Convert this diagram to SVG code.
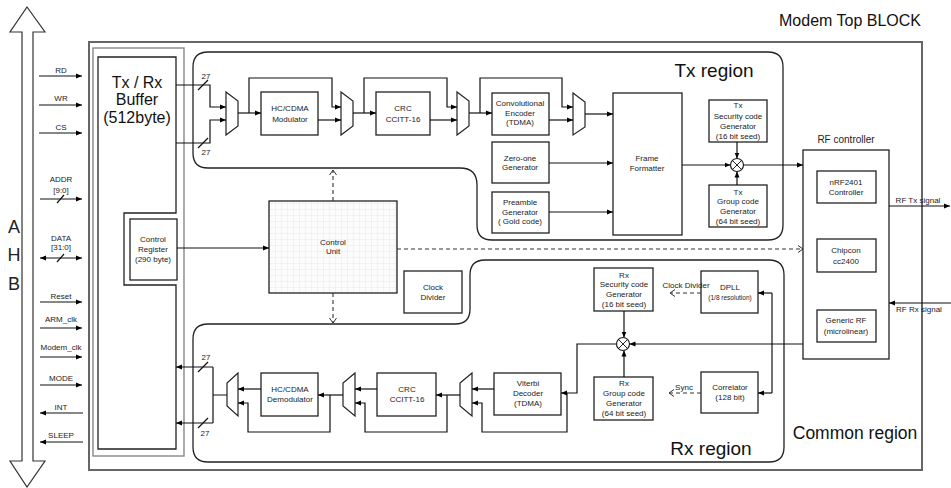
<svg xmlns="http://www.w3.org/2000/svg" width="951" height="488" viewBox="0 0 951 488">
<style>
text{font-family:"Liberation Sans",Arial,sans-serif;fill:#222;text-anchor:middle}
.s{font-size:8px}
.xs{font-size:6.5px}
.big{font-size:16px;fill:#111}
.reg{font-size:19px;fill:#111}
.box{fill:#fff;stroke:#222;stroke-width:1.3}
.mux{fill:#fff;stroke:#222;stroke-width:1.2}
.w{fill:none;stroke:#111;stroke-width:1.2}
.arr{marker-end:url(#a)}
.d{fill:none;stroke:#333;stroke-width:1.1;stroke-dasharray:4 3;marker-end:url(#o)}
.region{fill:none;stroke:#222;stroke-width:1.3}
</style>
<defs>
<marker id="a" markerWidth="6" markerHeight="6" refX="6" refY="3" orient="auto-start-reverse" markerUnits="userSpaceOnUse"><path d="M0,0.5 L6,3 L0,5.5 Z" fill="#000"/></marker>
<marker id="o" markerWidth="7" markerHeight="8" refX="6" refY="4" orient="auto" markerUnits="userSpaceOnUse"><path d="M1,0.5 L6,4 L1,7.5" fill="none" stroke="#333" stroke-width="1"/></marker>
<pattern id="grid" width="6" height="6" patternUnits="userSpaceOnUse"><rect width="6" height="6" fill="#fcfcfc"/><path d="M6,0 V6 M0,6 H6" fill="none" stroke="#dcdcdc" stroke-width="0.6"/></pattern>
</defs>
<rect width="951" height="488" fill="#fff"/>

<g id="ahb">
<polygon points="27,7 45,32 33,32 33,461 45,461 27,487 10,461 22,461 22,32 10,32" fill="#fff" stroke="#333" stroke-width="1.2"/>
<text x="14" y="233" style="font-size:18px">A</text>
<text x="14" y="261" style="font-size:18px">H</text>
<text x="14" y="290" style="font-size:18px">B</text>
</g>

<g id="modem-top">
<rect x="89" y="42" width="833" height="428" fill="none" stroke="#666" stroke-width="2"/>
<text x="921" y="26" class="big" style="text-anchor:end">Modem Top BLOCK</text>
<text x="855" y="439" class="reg" style="font-size:17.5px">Common region</text>
</g>

<g id="buffer">
<rect x="93" y="48" width="91" height="408" fill="none" stroke="#888" stroke-width="1.4"/>
<path d="M98,57 H176 V213 H124 V285 H176 V449 H98 Z" fill="#fff" stroke="#222" stroke-width="1.3"/>
<text x="137" y="88" class="big">Tx / Rx</text>
<text x="137" y="105" class="big">Buffer</text>
<text x="137" y="123" class="big">(512byte)</text>
</g>

<g id="control-register">
<rect x="130" y="219" width="47" height="61" class="box"/>
<text x="153" y="242" class="s">Control</text>
<text x="153" y="252" class="s">Register</text>
<text x="153" y="262" class="s">(290 byte)</text>
</g>

<g id="tx-region">
<path d="M208,52 H768 Q783,52 783,67 V225 Q783,240 768,240 H492 Q477,240 477,225 V185 Q477,168 460,168 H208 Q193,168 193,153 V67 Q193,52 208,52 Z" class="region"/>
<text x="714" y="77" class="reg">Tx region</text>
</g>

<g id="rx-region">
<path d="M208,324 H455 Q470,324 470,309 V275 Q470,260 485,260 H769 Q784,260 784,275 V447 Q784,462 769,462 H208 Q193,462 193,447 V339 Q193,324 208,324 Z" class="region"/>
<text x="711" y="455" class="reg">Rx region</text>
</g>

<g id="tx-mux1"><polygon points="226,92 238,101 238,126 226,135" class="mux"/></g>
<g id="tx-mux2"><polygon points="341,92 353,101 353,126 341,135" class="mux"/></g>
<g id="tx-mux3"><polygon points="457,92 469,101 469,126 457,135" class="mux"/></g>
<g id="tx-mux4"><polygon points="573,93 585,102 585,127 573,135" class="mux"/></g>

<g id="hc-cdma-mod"><rect x="261" y="92" width="57" height="43" class="box"/>
<text x="290" y="111" class="s">HC/CDMA</text><text x="290" y="122" class="s">Modulator</text></g>
<g id="crc-tx"><rect x="376" y="92" width="54" height="43" class="box"/>
<text x="403" y="111" class="s">CRC</text><text x="403" y="122" class="s">CCITT-16</text></g>
<g id="conv-enc"><rect x="492" y="93" width="57" height="42" class="box"/>
<text x="520" y="106" class="s">Convolutional</text><text x="520" y="116" class="s">Encoder</text><text x="520" y="125" class="s">(TDMA)</text></g>
<g id="zero-one"><rect x="492" y="142" width="57" height="41" class="box"/>
<text x="520" y="161" class="s">Zero-one</text><text x="520" y="170" class="s">Generator</text></g>
<g id="preamble"><rect x="492" y="192" width="57" height="41" class="box"/>
<text x="520" y="205" class="s">Preamble</text><text x="520" y="215" class="s">Generator</text><text x="520" y="224" class="s">( Gold code)</text></g>
<g id="frame-formatter"><rect x="613" y="93" width="69" height="142" class="box"/>
<text x="647" y="161" class="s">Frame</text><text x="647" y="171" class="s">Formatter</text></g>
<g id="tx-security"><rect x="709" y="100" width="58" height="42" class="box"/>
<text x="738" y="108" class="s">Tx</text><text x="738" y="119" class="s">Security code</text><text x="738" y="129" class="s">Generator</text><text x="738" y="139" class="s">(16 bit seed)</text></g>
<g id="tx-group"><rect x="709" y="185" width="58" height="42" class="box"/>
<text x="738" y="195" class="s">Tx</text><text x="738" y="204" class="s">Group code</text><text x="738" y="214" class="s">Generator</text><text x="738" y="224" class="s">(64 bit seed)</text></g>
<g id="tx-xor"><circle cx="737" cy="165" r="6.5" fill="#fff" stroke="#222" stroke-width="1.2"/>
<path d="M732.4,160.4 L741.6,169.6 M741.6,160.4 L732.4,169.6" stroke="#222" stroke-width="1"/></g>

<g id="control-unit"><rect x="269" y="201" width="128" height="92" fill="url(#grid)" stroke="#222" stroke-width="1.3"/>
<text x="333" y="245" class="s">Control</text><text x="333" y="254" class="s">Unit</text></g>
<g id="clock-divider"><rect x="404" y="271" width="58" height="42" class="box"/>
<text x="433" y="290" class="s">Clock</text><text x="433" y="300" class="s">Divider</text></g>

<g id="rf-controller"><rect x="803" y="150" width="86" height="209" class="box"/>
<text x="846" y="143" style="font-size:10px">RF controller</text></g>
<g id="nrf2401"><rect x="817" y="171" width="59" height="32" class="box"/>
<text x="846" y="185" class="s">nRF2401</text><text x="846" y="195" class="s">Controller</text></g>
<g id="chipcon"><rect x="817" y="239" width="59" height="33" class="box"/>
<text x="846" y="253" class="s">Chipcon</text><text x="846" y="264" class="s">cc2400</text></g>
<g id="generic-rf"><rect x="817" y="310" width="59" height="32" class="box"/>
<text x="846" y="323" class="s">Generic RF</text><text x="846" y="334" class="s">(microlinear)</text></g>

<g id="rx-security"><rect x="594" y="268" width="59" height="43" class="box"/>
<text x="624" y="278" class="s">Rx</text><text x="624" y="287" class="s">Security code</text><text x="624" y="297" class="s">Generator</text><text x="624" y="307" class="s">(16 bit seed)</text></g>
<g id="rx-group"><rect x="594" y="377" width="59" height="43" class="box"/>
<text x="624" y="386" class="s">Rx</text><text x="624" y="396" class="s">Group code</text><text x="624" y="406" class="s">Generator</text><text x="624" y="416" class="s">(64 bit seed)</text></g>
<g id="rx-xor"><circle cx="623" cy="344" r="6.5" fill="#fff" stroke="#222" stroke-width="1.2"/>
<path d="M618.4,339.4 L627.6,348.6 M627.6,339.4 L618.4,348.6" stroke="#222" stroke-width="1"/></g>
<g id="dpll"><rect x="701" y="271" width="57" height="42" class="box"/>
<text x="730" y="290" class="s">DPLL</text><text x="730" y="300" class="xs">(1/8 resolution)</text></g>
<g id="correlator"><rect x="701" y="372" width="57" height="41" class="box"/>
<text x="730" y="390" class="s">Correlator</text><text x="730" y="400" class="s">(128 bit)</text></g>
<g id="viterbi"><rect x="494" y="373" width="67" height="42" class="box"/>
<text x="528" y="386" class="s">Viterbi</text><text x="528" y="396" class="s">Decoder</text><text x="528" y="406" class="s">(TDMA)</text></g>
<g id="crc-rx"><rect x="377" y="373" width="59" height="43" class="box"/>
<text x="407" y="392" class="s">CRC</text><text x="407" y="402" class="s">CCITT-16</text></g>
<g id="hc-cdma-demod"><rect x="261" y="373" width="57" height="43" class="box"/>
<text x="290" y="392" class="s">HC/CDMA</text><text x="290" y="402" class="s">Demodulator</text></g>
<g id="rx-mux1"><polygon points="238,373 227,383 227,406 238,416" class="mux"/></g>
<g id="rx-mux2"><polygon points="355,373 343,383 343,406 355,416" class="mux"/></g>
<g id="rx-mux3"><polygon points="472,373 460,383 460,406 472,416" class="mux"/></g>

<g id="connectors">
<path d="M39,76 H82" class="w arr"/>
<path d="M39,105 H82" class="w arr"/>
<path d="M39,133 H82" class="w arr"/>
<path d="M40,199 H82" class="w arr"/>
<path d="M57,203 L64,195" class="w"/>
<path d="M40,258 H82" class="w" marker-start="url(#a)" marker-end="url(#a)"/>
<path d="M57,262 L64,254" class="w"/>
<path d="M40,302 H82" class="w arr"/>
<path d="M40,328 H82" class="w arr"/>
<path d="M40,357 H82" class="w arr"/>
<path d="M40,385 H82" class="w arr"/>
<path d="M83,413 H40" class="w arr"/>
<path d="M83,442 H40" class="w arr"/>
<path d="M176,85 H210 V107 H226" class="w arr"/>
<path d="M176,143 H210 V120 H226" class="w arr"/>
<path d="M198,90 L208,80" class="w"/>
<path d="M198,148 L208,138" class="w"/>
<path d="M238,113 H261" class="w arr"/>
<path d="M249,113 V78 H332 V107 H341" class="w arr"/>
<path d="M318,120 H341" class="w arr"/>
<path d="M353,113 H376" class="w arr"/>
<path d="M364,113 V78 H447 V107 H457" class="w arr"/>
<path d="M430,120 H457" class="w arr"/>
<path d="M469,113 H492" class="w arr"/>
<path d="M480,113 V78 H562 V107 H573" class="w arr"/>
<path d="M549,120 H573" class="w arr"/>
<path d="M585,114 H613" class="w arr"/>
<path d="M549,163 H613" class="w arr"/>
<path d="M549,212 H613" class="w arr"/>
<path d="M682,165 H730.5" class="w arr"/>
<path d="M737,142 V158.5" class="w arr"/>
<path d="M737,185 V171.5" class="w arr"/>
<path d="M743.5,165 H803" class="w arr"/>
<path d="M177,248 H269" class="w arr"/>
<path d="M333,201 V170" class="d"/>
<path d="M333,293 V323" class="d"/>
<path d="M397,249 H803" class="d"/>
<path d="M803,344 H629.5" class="w arr"/>
<path d="M772,293 V393" class="w"/>
<path d="M772,293 H758" class="w arr"/>
<path d="M772,393 H758" class="w arr"/>
<path d="M701,293 H670" class="d"/>
<path d="M701,393 H669" class="d"/>
<path d="M624,311 V337.5" class="w arr"/>
<path d="M624,377 V350.5" class="w arr"/>
<path d="M616.5,344 H577 V393 H561" class="w arr"/>
<path d="M567,393 V432 H482 V403 H472" class="w arr"/>
<path d="M494,389 H472" class="w arr"/>
<path d="M460,395 H436" class="w arr"/>
<path d="M447,395 V432 H365 V403 H355" class="w arr"/>
<path d="M377,389 H355" class="w arr"/>
<path d="M343,395 H318" class="w arr"/>
<path d="M330,395 V432 H248 V403 H238" class="w arr"/>
<path d="M261,389 H238" class="w arr"/>
<path d="M227,395 H213 M213,367 V423" class="w"/>
<path d="M213,367 H176" class="w arr"/>
<path d="M213,423 H176" class="w arr"/>
<path d="M198,372 L208,362" class="w"/>
<path d="M198,428 L208,418" class="w"/>
<path d="M889,206 H950" class="w arr"/>
<path d="M951,303 H889" class="w arr"/>
</g>

<g id="labels">
<text x="61" y="73" class="s">RD</text>
<text x="61" y="101" class="s">WR</text>
<text x="61" y="130" class="s">CS</text>
<text x="61" y="182" class="s">ADDR</text>
<text x="61" y="193" class="s">[9:0]</text>
<text x="61" y="241" class="s">DATA</text>
<text x="61" y="250" class="s">[31:0]</text>
<text x="61" y="299" class="s">Reset</text>
<text x="61" y="322" class="s">ARM_clk</text>
<text x="61" y="350" class="s">Modem_clk</text>
<text x="61" y="381" class="s">MODE</text>
<text x="61" y="410" class="s">INT</text>
<text x="61" y="438" class="s">SLEEP</text>
<text x="206" y="79" class="s">27</text>
<text x="206" y="155" class="s">27</text>
<text x="206" y="360" class="s">27</text>
<text x="205" y="436" class="s">27</text>
<text x="686" y="288" class="s">Clock Divider</text>
<text x="684" y="390" class="s">Sync</text>
<text x="918" y="203" class="s">RF Tx signal</text>
<text x="919" y="312" class="s">RF Rx signal</text>
</g>
</svg>
